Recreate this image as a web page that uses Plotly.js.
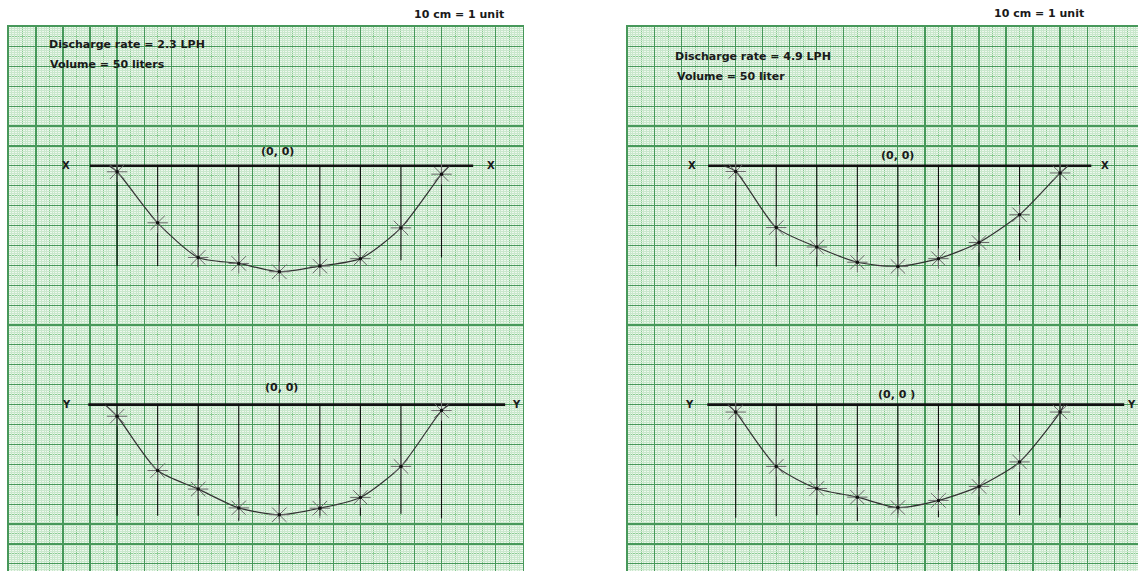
<!DOCTYPE html>
<html>
<head>
<meta charset="utf-8">
<script src="https://cdn.plot.ly/plotly-3.0.1.min.js"></script>
<style>html,body{margin:0;padding:0;background:#fff;}#chart{width:1138px;height:571px;}</style>
</head>
<body>
<div id="chart"></div>
<script>
// Horizontal distance from the dripper (cm)
const xPos = [-40, -30, -20, -10, 0, 10, 20, 30, 40];
// Wetting-front depth (cm) — 2.3 LPH
const depthX23 = [2.0, 19.1, 30.7, 32.7, 35.5, 33.6, 31.1, 20.8, 2.8];
const depthY23 = [3.9, 22.1, 28.3, 34.6, 36.9, 34.7, 31.1, 20.7, 2.0];
// Wetting-front depth (cm) — 4.9 LPH
const depthX49 = [1.9, 20.7, 27.2, 32.3, 33.7, 31.1, 25.7, 16.4, 2.4];
const depthY49 = [2.5, 20.7, 28.1, 31.0, 34.5, 32.1, 27.4, 19.2, 2.5];
// where the front meets the surface (cm)
const edgeX23 = [-42, 42];
const edgeY23 = [-43, 42];
const edgeX49 = [-43, 42];
const edgeY49 = [-42, 41];
// length of the vertical guide lines (cm)
const dropX23 = [33.6, 33.6, 33.8, 33.6, 35.5, 33.8, 32.6, 31.6, 30.7];
const dropY23 = [37.2, 37.2, 37.2, 38.9, 38.4, 37.2, 37.2, 36.6, 38.1];
const dropX49 = [33.7, 33.7, 33.7, 33.7, 33.7, 33.7, 33.7, 31.7, 31.5];
const dropY49 = [37.9, 37.4, 37.1, 39.0, 36.5, 37.7, 37.1, 37.1, 37.9];
// extent of the drawn X-X / Y-Y reference lines (cm)
const axX23 = [-46.7, 47.8];
const axY23 = [-47.1, 55.7];
const axX49 = [-46.8, 47.7];
const axY49 = [-47.0, 55.8];
// labels
const panelTexts = [
  {rate: 'Discharge rate = 2.3 LPH', vol: 'Volume = 50 liters', o1: '(0, 0)', o2: '(0, 0)'},
  {rate: 'Discharge rate = 4.9 LPH', vol: 'Volume = 50 liter', o1: '(0, 0)', o2: '(0, 0 )'}
];
const scaleText = '10 cm = 1 unit';

// ---------- geometry ----------
const W = 1138, H = 571;
const cell = 20 / 3;             // one bold square = 6.667 cm
const fineStep = cell / 10;
const hx = 4.055;                // px per cm horizontally
const vy = 2.985;                // px per cm vertically
const topPx = 26.5, axisPx = 165.8;
const yTop = (axisPx - topPx) / vy;
const yBot = -(H - axisPx) / vy;
const shift = 12 * cell;         // Y-Y line is 12 squares below X-X line

const leftCenter = 279.3, rightCenter = 897.9;
const xRangeL = [-10 * cell, 9 * cell];
const xRangeR = [-10 * cell, (W - rightCenter) / hx];
const domL = [(leftCenter + xRangeL[0] * hx) / W, (leftCenter + xRangeL[1] * hx) / W];
const domR = [(rightCenter + xRangeR[0] * hx) / W, 1];
const yDom = [0, 1 - topPx / H];

const fine = '#c9e7cc', medium = '#8ccb94', bold = '#47985a';

// graph-paper line positions: every = lattice multiple (in fine steps), skip = exclude multiples
function lattice(range, every, skip) {
  const out = [];
  const k0 = Math.ceil(range[0] / fineStep - 1e-6), k1 = Math.floor(range[1] / fineStep + 1e-6);
  for (let k = k0; k <= k1; k++) {
    if (k % every !== 0) continue;
    if (skip && k % skip === 0) continue;
    out.push(k * fineStep);
  }
  return out;
}
function gridAxis(range, level) {
  const base = {range, showticklabels: false, ticks: '', zeroline: false, fixedrange: true, showgrid: true, tickmode: 'array'};
  if (level === 'fine') {
    return Object.assign(base, {tickvals: lattice(range, 1, 5), gridcolor: fine, gridwidth: 1, showline: false});
  }
  return Object.assign(base, {tickvals: lattice(range, 10), gridcolor: bold, gridwidth: 1.2,
    minor: {tickmode: 'array', tickvals: lattice(range, 5, 10), showgrid: true, gridcolor: medium, gridwidth: 1, ticks: ''}});
}

const layout = {
  width: W, height: H,
  margin: {l: 0, r: 0, t: 0, b: 0, pad: 0},
  paper_bgcolor: '#ffffff', plot_bgcolor: '#ecf7ec',
  showlegend: false, hovermode: false,
  // fine-grid (main) axes carry the X-X profiles
  xaxis: Object.assign(gridAxis(xRangeL, 'fine'), {domain: domL, anchor: 'y'}),
  yaxis: Object.assign(gridAxis([yBot, yTop], 'fine'), {domain: yDom, anchor: 'x'}),
  xaxis2: Object.assign(gridAxis(xRangeR, 'fine'), {domain: domR, anchor: 'y2'}),
  yaxis2: Object.assign(gridAxis([yBot, yTop], 'fine'), {domain: yDom, anchor: 'x2'}),
  // bold/medium grid (overlay) axes carry the Y-Y profiles
  xaxis3: Object.assign(gridAxis(xRangeL, 'bold'), {domain: domL, anchor: 'y3', overlaying: 'x'}),
  yaxis3: Object.assign(gridAxis([yBot + shift, yTop + shift], 'bold'), {domain: yDom, anchor: 'x3', overlaying: 'y'}),
  xaxis4: Object.assign(gridAxis(xRangeR, 'bold'), {domain: domR, anchor: 'y4', overlaying: 'x2'}),
  yaxis4: Object.assign(gridAxis([yBot + shift, yTop + shift], 'bold'), {domain: yDom, anchor: 'x4', overlaying: 'y2'})
};
// paper borders
Object.assign(layout.xaxis, {showline: true, side: 'top', linecolor: bold, linewidth: 1.5});
Object.assign(layout.yaxis, {showline: true, linecolor: bold, linewidth: 1.5, mirror: true});
Object.assign(layout.xaxis2, {showline: true, side: 'top', linecolor: bold, linewidth: 1.5});
Object.assign(layout.yaxis2, {showline: true, linecolor: bold, linewidth: 1.5});

const traces = [];
function profile(xa, ya, depth, edge, drop, ax) {
  traces.push({x: ax, y: [0, 0], xaxis: xa, yaxis: ya, mode: 'lines', line: {color: '#111', width: 2.6}, hoverinfo: 'skip'});
  const dx = [], dy = [];
  xPos.forEach((v, i) => { dx.push(v, v, null); dy.push(0, -drop[i], null); });
  traces.push({x: dx, y: dy, xaxis: xa, yaxis: ya, mode: 'lines', line: {color: '#111', width: 1.1}, hoverinfo: 'skip'});
  traces.push({x: [edge[0]].concat(xPos, [edge[1]]), y: [0].concat(depth.map(d => -d), [0]),
    xaxis: xa, yaxis: ya, mode: 'lines', line: {color: '#333', width: 1.2, shape: 'spline', smoothing: 0.7}, hoverinfo: 'skip'});
  traces.push({x: xPos, y: depth.map(d => -d), xaxis: xa, yaxis: ya, mode: 'markers',
    marker: {symbol: 'asterisk-open', size: 17, color: '#6a6a6a', line: {color: '#6a6a6a', width: 1}}, hoverinfo: 'skip'});
  traces.push({x: xPos, y: depth.map(d => -d), xaxis: xa, yaxis: ya, mode: 'markers',
    marker: {symbol: 'circle', size: 3.5, color: '#111'}, hoverinfo: 'skip'});
}
profile('x', 'y', depthX23, edgeX23, dropX23, axX23);
profile('x3', 'y3', depthY23, edgeY23, dropY23, axY23);
profile('x2', 'y2', depthX49, edgeX49, dropX49, axX49);
profile('x4', 'y4', depthY49, edgeY49, dropY49, axY49);

const tfont = {family: 'DejaVu Sans', size: 11, color: '#1a1a1a'};
const lfont = {family: 'DejaVu Sans', size: 10, color: '#1a1a1a'};
function ann(text, x, y, xanchor, f, xref, yref) {
  return {text: '<b>' + text + '</b>', x, y, xref: xref || 'paper', yref: yref || 'paper', xanchor: xanchor || 'center', yanchor: 'middle', showarrow: false, font: f || tfont};
}
const px = v => v / W, py = v => 1 - v / H;
layout.annotations = [
  ann(scaleText, px(459), py(14), 'center'),
  ann(scaleText, px(1038.5), py(13.5), 'center'),
  ann(panelTexts[0].rate, px(47), py(45), 'left'),
  ann(panelTexts[0].vol, px(48), py(64.5), 'left'),
  ann(panelTexts[1].rate, px(673), py(56.5), 'left'),
  ann(panelTexts[1].vol, px(675), py(76.5), 'left'),
  ann(panelTexts[0].o1, px(277), py(152), 'center'),
  ann(panelTexts[0].o2, px(281), py(387), 'center'),
  ann(panelTexts[1].o1, px(897), py(156), 'center'),
  ann(panelTexts[1].o2, px(896), py(394), 'center'),
  ann('X', -52.7, 0, 'center', lfont, 'x', 'y'),
  ann('X', 52.1, 0, 'center', lfont, 'x', 'y'),
  ann('Y', -52.4, 0, 'center', lfont, 'x3', 'y3'),
  ann('Y', 58.5, 0, 'center', lfont, 'x3', 'y3'),
  ann('X', -50.8, 0, 'center', lfont, 'x2', 'y2'),
  ann('X', 51.1, 0, 'center', lfont, 'x2', 'y2'),
  ann('Y', -51.3, 0, 'center', lfont, 'x4', 'y4'),
  ann('Y', 57.5, 0, 'center', lfont, 'x4', 'y4')
];
Plotly.newPlot('chart', traces, layout, {staticPlot: true, displayModeBar: false});
</script>
</body>
</html>
